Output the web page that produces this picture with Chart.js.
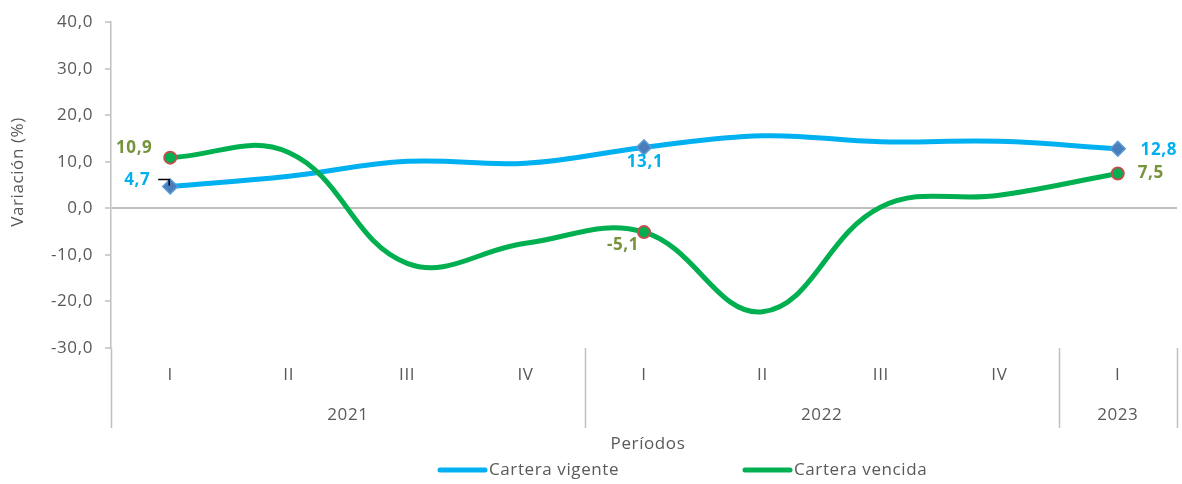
<!DOCTYPE html>
<html>
<head>
<meta charset="utf-8">
<script src="https://cdn.jsdelivr.net/npm/chart.js@4/dist/chart.umd.min.js"></script>
<style>
html,body{margin:0;padding:0;background:#fff;}
#wrap{width:1182px;height:484px;}
</style>
</head>
<body>
<div id="wrap"><canvas id="c" width="1182" height="484"></canvas></div>
<script>
const categories = ['I','II','III','IV','I','II','III','IV','I'];
const years = ['2021','2022','2023'];
const yearSpans = [4,4,1];
const vigente = [4.7, 6.9, 10.1, 9.7, 13.1, 15.6, 14.3, 14.4, 12.8];
const vencida = [10.9, 12.0, -11.8, -7.5, -5.1, -22.2, 0.3, 2.8, 7.5];
const yMin = -30, yMax = 40, yStep = 10;
const labeledIdx = [0, 4, 8];
const seriesNames = ['Cartera vigente', 'Cartera vencida'];

const FONT = '"Open Sans", Lato, sans-serif';
const SPACING = '0.6px';
const GREY = '#595959';
const AXIS = '#BFBFBF';
const fmt = v => v.toFixed(1).replace('.', ',');

// keep the plot area exactly where the layout puts it (no extra room for thick lines / markers)
try {
  const LC = Chart.registry.getController('line');
  LC.prototype.getMaxOverflow = function () { return 0; };
} catch (e) {}

// label offsets (style) relative to point: [dx, dy]
const labelStyle = [
  {color:'#00B0F0', pos:{0:[-33,-6],4:[1,15],8:[41,1]}},
  {color:'#77933C', pos:{0:[-36,-9],4:[-21,13],8:[33,0]}}
];

const setSpacing = chart => { try { chart.ctx.letterSpacing = SPACING; } catch (e) {} };

const extras = {
  id:'extras',
  beforeLayout: setSpacing,
  beforeDraw: setSpacing,
  afterDatasetsDraw(chart){
    const ctx = chart.ctx;
    ctx.save();
    ctx.font = 'bold 17px ' + FONT;
    ctx.textAlign = 'center';
    ctx.textBaseline = 'middle';
    chart.data.datasets.forEach((ds, di) => {
      const meta = chart.getDatasetMeta(di);
      labeledIdx.forEach(i => {
        const p = meta.data[i];
        const off = labelStyle[di].pos[i];
        ctx.fillStyle = labelStyle[di].color;
        ctx.fillText(fmt(ds.data[i]), p.x + off[0], p.y + off[1]);
      });
    });
    // leader line for first vigente label
    const p0 = chart.getDatasetMeta(0).data[0];
    ctx.strokeStyle = '#000';
    ctx.lineWidth = 1.5;
    ctx.beginPath();
    ctx.moveTo(p0.x - 12, p0.y - 7);
    ctx.lineTo(p0.x - 1, p0.y - 7);
    ctx.lineTo(p0.x - 1, p0.y - 1);
    ctx.stroke();
    ctx.restore();
  },
  afterDraw(chart){
    const ctx = chart.ctx;
    const xs = chart.scales.x;
    const area = chart.chartArea;
    ctx.save();
    const half = (xs.getPixelForValue(1) - xs.getPixelForValue(0)) / 2;
    const bottom = area.bottom + 80;
    // separators
    ctx.strokeStyle = AXIS;
    ctx.lineWidth = 1.5;
    let start = 0;
    const bounds = [0];
    yearSpans.forEach(s => { start += s; bounds.push(start); });
    bounds.forEach(b => {
      const x = Math.min(Math.round(xs.getPixelForValue(b) - half) + 0.5, chart.width - 4.5);
      ctx.beginPath();
      ctx.moveTo(x, area.bottom);
      ctx.lineTo(x, bottom);
      ctx.stroke();
    });
    // year labels
    ctx.fillStyle = GREY;
    ctx.font = '17px ' + FONT;
    ctx.textAlign = 'center';
    ctx.textBaseline = 'middle';
    start = 0;
    years.forEach((y, k) => {
      const a = xs.getPixelForValue(start);
      const b = xs.getPixelForValue(start + yearSpans[k] - 1);
      ctx.fillText(y, (a + b) / 2, area.bottom + 67);
      start += yearSpans[k];
    });
    // axis titles
    ctx.fillText('Períodos', (area.left + area.right) / 2 + 4, area.bottom + 96);
    ctx.save();
    ctx.translate(18, 172);
    ctx.rotate(-Math.PI / 2);
    ctx.fillText('Variación (%)', 0, 0);
    ctx.restore();
    // legend
    const legend = [
      {x:438, color:'#00B0F0', text:seriesNames[0]},
      {x:743, color:'#00B050', text:seriesNames[1]}
    ];
    ctx.textAlign = 'left';
    legend.forEach(l => {
      ctx.strokeStyle = l.color;
      ctx.lineWidth = 5;
      ctx.lineCap = 'round';
      ctx.beginPath();
      ctx.moveTo(l.x + 2, 470);
      ctx.lineTo(l.x + 47, 470);
      ctx.stroke();
      ctx.fillStyle = GREY;
      ctx.fillText(l.text, l.x + 51, 470);
    });
    ctx.restore();
  }
};

const ptRadius = r => c => labeledIdx.includes(c.dataIndex) ? r : 0;

new Chart(document.getElementById('c'), {
  type: 'line',
  data: {
    labels: categories,
    datasets: [
      {
        label: seriesNames[0],
        data: vigente,
        borderColor: '#00B0F0',
        borderWidth: 5,
        tension: 0.4,
        pointStyle: 'rectRot',
        pointRadius: ptRadius(7.5),
        pointHoverRadius: ptRadius(7.5),
        pointBackgroundColor: '#4A7EBB',
        pointBorderColor: '#5B9BD5',
        pointBorderWidth: 1.5,
        order: 1,
        clip: false
      },
      {
        label: seriesNames[1],
        data: vencida,
        borderColor: '#00B050',
        borderWidth: 5,
        tension: 0.4,
        pointStyle: 'circle',
        pointRadius: ptRadius(6),
        pointHoverRadius: ptRadius(6),
        pointBackgroundColor: '#00B050',
        pointBorderColor: '#C0504D',
        pointBorderWidth: 2,
        order: 0,
        clip: false
      }
    ]
  },
  options: {
    responsive: false,
    animation: false,
    layout: { padding: { left: 0, right: 5, top: 21, bottom: 0 } },
    plugins: { legend: { display: false }, tooltip: { enabled: false } },
    scales: {
      x: {
        offset: true,
        grid: { display: false, drawTicks: false },
        border: { display: false },
        ticks: { color: GREY, font: { family: FONT, size: 17 }, padding: 17, maxRotation: 0, autoSkip: false },
        afterFit: s => { s.height = 136; s.paddingRight = 0; s.paddingLeft = 0; }
      },
      y: {
        min: yMin, max: yMax,
        ticks: { stepSize: yStep, color: GREY, font: { family: FONT, size: 17 }, padding: 12, callback: v => fmt(v) },
        grid: {
          color: c => c.tick && c.tick.value === 0 ? AXIS : 'rgba(0,0,0,0)',
          lineWidth: 2,
          tickColor: AXIS,
          tickLength: 6,
          tickWidth: 1.5
        },
        border: { color: AXIS, width: 1.5 },
        afterFit: s => { s.width = 111; }
      }
    }
  },
  plugins: [extras]
});
</script>
</body>
</html>
